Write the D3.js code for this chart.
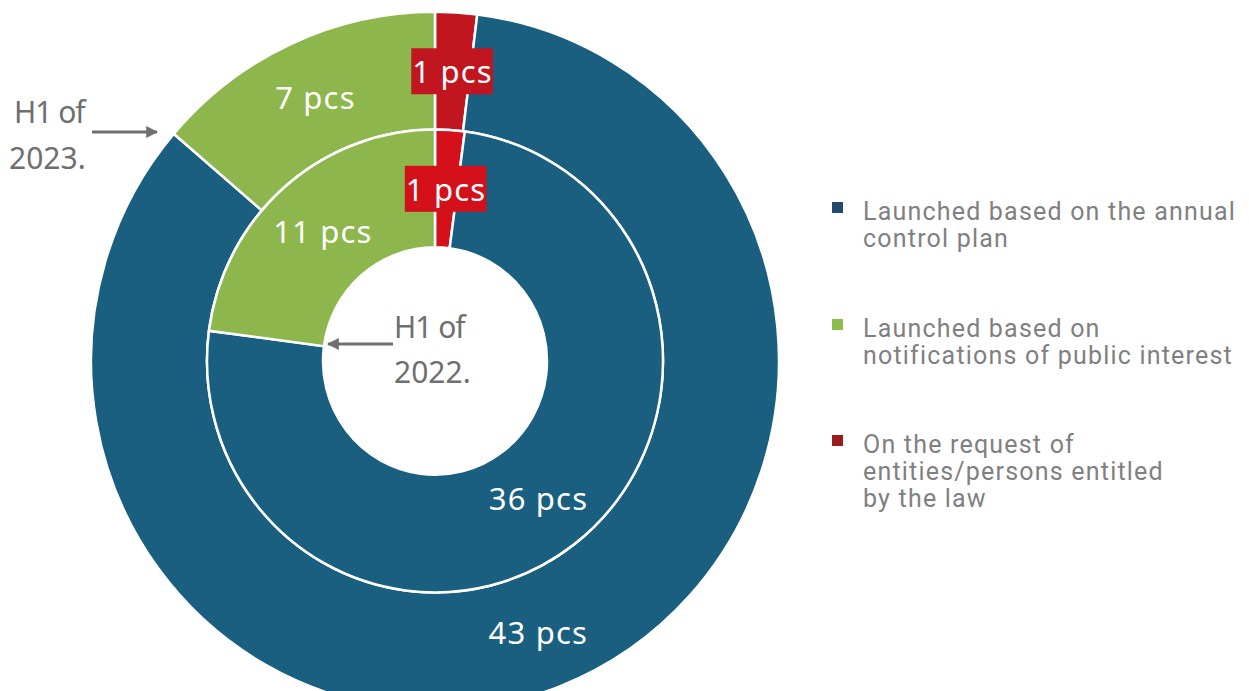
<!DOCTYPE html>
<meta charset="utf-8">
<head>
    <title>Procedures by type</title>
    <script src="https://cdn.jsdelivr.net/npm/d3@7"></script>
    <style>
        body { margin: 0; background: #fff; }
        svg { display: block; }
        .lbl { font-family: "Noto Sans", sans-serif; fill: #fff; letter-spacing: 1.2px; }
        .period { font-family: "Noto Sans", sans-serif; fill: #6f6f6f; font-size: 30px; }
        .legend text { font-family: Roboto, sans-serif; fill: #808080; font-size: 25px; letter-spacing: 1.2px; }
    </style>
</head>
<body>
<div id="chart"></div>
<script>
    // data
    var categories = ["Launched based on the annual control plan",
                      "Launched based on notifications of public interest",
                      "On the request of entities/persons entitled by the law"];
    var legendLines = [["Launched based on the annual", "control plan"],
                       ["Launched based on", "notifications of public interest"],
                       ["On the request of", "entities/persons entitled", "by the law"]];
    var h1_2023 = [43, 7, 1];   // outer ring
    var h1_2022 = [36, 11, 1];  // inner ring
    var ringNames = ["H1 of 2023.", "H1 of 2022."];

    var w = 1249, h = 691;
    var cx = 435, cy = 361;
    var rOuter = 344, rMid = 228, rHole = 112;

    var colOuter = ["#1a5f7f", "#8db64c", "#c1151f"];
    var colInner = ["#1a5f7f", "#8db64c", "#d4101b"];
    var colLegend = ["#234a6b", "#8cbd4c", "#9b1b1d"];

    var svg = d3.select("#chart").append("svg")
        .attr("width", w).attr("height", h);

    // clockwise from 12 o'clock: request, annual plan, notifications
    var order = [2, 0, 1];
    var this_vals;
    var pie = d3.pie().sort(null).value(function(i) { return this_vals[i]; });

    function ring(vals, r0, r1, colors) {
        this_vals = vals;
        var arcs = pie(order);
        var arc = d3.arc().innerRadius(r0).outerRadius(r1);
        var g = svg.append("g").attr("transform", "translate(" + cx + "," + cy + ") scale(1,1.015)");
        g.selectAll("path").data(arcs).enter().append("path")
            .attr("d", arc)
            .attr("fill", function(d) { return colors[d.data]; })
            .attr("stroke", "#fff")
            .attr("stroke-width", 2.5);
        var lg = svg.append("g");
        arcs.forEach(function(d) {
            var c = arc.centroid(d);
            var x = cx + c[0], y = cy + c[1] * 1.015;
            var t = lg.append("text").attr("class", "lbl")
                .attr("x", x).attr("y", y)
                .attr("text-anchor", "middle")
                .attr("dominant-baseline", "central")
                .attr("font-size", 31)
                .text(vals[d.data] + " pcs");
            if (d.data === 2) {
                var bb = t.node().getBBox();
                lg.insert("rect", function() { return t.node(); })
                    .attr("x", bb.x - 1).attr("y", y - 23)
                    .attr("width", bb.width + 1).attr("height", 46)
                    .attr("fill", colors[2]);
            }
        });
    }

    ring(h1_2023, rMid, rOuter, colOuter);
    ring(h1_2022, rHole, rMid, colInner);

    // period annotations with arrows
    svg.append("defs").append("marker")
        .attr("id", "arr").attr("viewBox", "0 0 10 10")
        .attr("refX", 9).attr("refY", 5)
        .attr("markerWidth", 4).attr("markerHeight", 4)
        .attr("orient", "auto-start-reverse")
        .append("path").attr("d", "M0,0 L10,5 L0,10 Z").attr("fill", "#6f6f6f");

    var p23 = ringNames[0].split(" ");
    var t1 = svg.append("text").attr("class", "period").attr("x", 14).attr("y", 123);
    t1.append("tspan").attr("x", 14).attr("letter-spacing", -1).text(p23[0] + " " + p23[1]);
    t1.append("tspan").attr("x", 9).attr("dy", 46).text(p23[2]);
    svg.append("line").attr("x1", 92).attr("y1", 132).attr("x2", 157).attr("y2", 132)
        .attr("stroke", "#6f6f6f").attr("stroke-width", 3).attr("marker-end", "url(#arr)");

    var p22 = ringNames[1].split(" ");
    var t2 = svg.append("text").attr("class", "period").attr("x", 394).attr("y", 338);
    t2.append("tspan").attr("x", 394).attr("letter-spacing", -1).text(p22[0] + " " + p22[1]);
    t2.append("tspan").attr("x", 394).attr("dy", 45).text(p22[2]);
    svg.append("line").attr("x1", 393).attr("y1", 344).attr("x2", 328).attr("y2", 344)
        .attr("stroke", "#6f6f6f").attr("stroke-width", 3).attr("marker-end", "url(#arr)");

    // legend
    var legendTop = [220, 337, 453];
    var leg = svg.append("g").attr("class", "legend");
    categories.forEach(function(c, i) {
        leg.append("rect").attr("x", 832).attr("y", legendTop[i] - 18)
            .attr("width", 11).attr("height", 11).attr("fill", colLegend[i]);
        var t = leg.append("text").attr("x", 863).attr("y", legendTop[i]);
        legendLines[i].forEach(function(line, j) {
            t.append("tspan").attr("x", 863).attr("dy", j === 0 ? 0 : 27).text(line);
        });
    });
</script>
</body>
